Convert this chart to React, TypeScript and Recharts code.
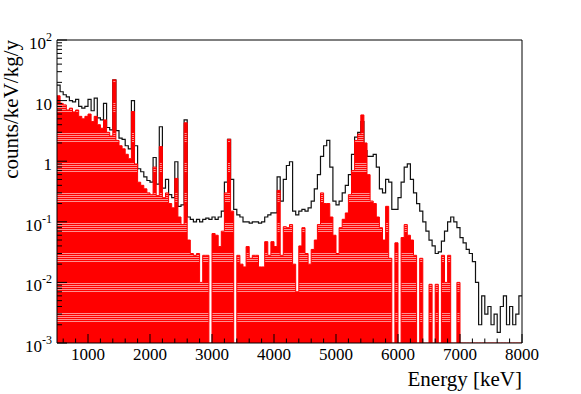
import React from 'react';
import { ComposedChart, Area, XAxis, YAxis, ReferenceArea } from 'recharts';

// ---- data ----
const X_MIN = 500;
const X_MAX = 8000;
const BIN_WIDTH = 50;
const Y_MIN = 0.001;
const Y_MAX = 100;

// bin start energies [keV]
const binStarts: number[] = Array.from({ length: 150 }, (_, i) => X_MIN + BIN_WIDTH * i);

// total spectrum (black), counts/keV/kg/y
const totalRate: number[] = [
  18, 14, 12.5, 11.5, 10, 9.5, 10.5, 8, 7.5, 8,
  10.5, 6.8, 11, 5.2, 4.8, 9, 3.6, 3.3, 22, 3.2,
  2.4, 2.3, 1.8, 1.6, 10, 1.8, 0.75, 0.67, 0.55, 0.48,
  0.45, 1.15, 0.42, 3.7, 0.36, 0.5, 0.28, 0.25, 0.98, 0.18,
  0.19, 4.8, 0.12, 0.11, 0.1, 0.11, 0.1, 0.11, 0.115, 0.11,
  0.12, 0.11, 0.12, 0.15, 0.45, 2.3, 0.5, 0.16, 0.13, 0.12,
  0.1, 0.1, 0.095, 0.1, 0.1, 0.095, 0.1, 0.12, 0.13, 0.14,
  0.14, 0.55, 0.22, 0.5, 0.85, 0.98, 0.15, 0.13, 0.15, 0.16,
  0.15, 0.17, 0.22, 0.35, 0.6, 1.2, 1.8, 2.2, 0.8, 0.22,
  0.19, 0.22, 0.3, 0.4, 0.6, 1.3, 2.5, 3.0, 4.5, 1.5,
  1.2, 1.2, 1.3, 0.8, 0.35, 0.3, 0.5, 0.45, 0.16, 0.16,
  0.25, 0.45, 0.8, 0.9, 0.5, 0.3, 0.2, 0.15, 0.1, 0.07,
  0.05, 0.04, 0.03, 0.032, 0.048, 0.07, 0.1, 0.12, 0.1, 0.08,
  0.055, 0.045, 0.035, 0.03, 0.022, 0.01, 0.002, 0.006, 0.003, 0.004,
  0.002, 0.003, 0.0015, 0.004, 0.006, 0.002, 0.004, 0.002, 0.003, 0.006,
];

// selected spectrum (red), counts/keV/kg/y (0 = empty bin)
const selectedRate: number[] = [
  12, 9, 8.5, 7, 7.5, 6.5, 7, 5.5, 5, 5.5,
  6, 4.5, 5.5, 4, 3.5, 4.8, 3, 2.6, 22, 2.2,
  1.8, 1.6, 1.3, 1.1, 6.6, 0.9, 0.45, 0.4, 0.35, 0.3,
  0.28, 0.8, 0.27, 1.74, 0.25, 0.3, 0.2, 0.17, 0.52, 0.12,
  0.09, 4.3, 0.05, 0.03, 0.028, 0.03, 0.01, 0.028, 0.028, 0,
  0.064, 0.06, 0.039, 0.07, 0.3, 2.3, 0.15, 0, 0.028, 0.02,
  0.018, 0.039, 0.025, 0.028, 0.028, 0.018, 0.018, 0.047, 0.028, 0.047,
  0.039, 0.33, 0.028, 0.083, 0.08, 0.09, 0.02, 0.007, 0.04, 0.08,
  0.03, 0.02, 0.035, 0.05, 0.09, 0.3, 0.2, 0.2, 0.12, 0.06,
  0.03, 0.08, 0.11, 0.14, 0.28, 0.7, 2.2, 2.8, 5.8, 2.0,
  0.6, 0.22, 0.2, 0.12, 0.08, 0.05, 0.18, 0.025, 0, 0.045,
  0, 0.055, 0.09, 0.06, 0.05, 0.028, 0, 0.025, 0, 0,
  0.0093, 0, 0.0093, 0, 0.028, 0.01, 0.028, 0, 0, 0.01,
  0, 0, 0, 0, 0, 0, 0, 0, 0, 0,
  0, 0, 0, 0, 0, 0, 0, 0, 0, 0,
];

// axis ticks
const xTicks: number[] = Array.from({ length: 38 }, (_, i) => 600 + 200 * i);
const yTicks: number[] = (() => {
  const out: number[] = [];
  for (let d = -3; d <= 1; d++) {
    for (let m = 1; m <= 9; m++) out.push(Number((m * Math.pow(10, d)).toPrecision(3)));
  }
  out.push(100);
  return out;
})();
const yTickLabels: Record<string, [string, string]> = {
  '100': ['10', '2'],
  '10': ['10', ''],
  '1': ['1', ''],
  '0.1': ['10', '-1'],
  '0.01': ['10', '-2'],
  '0.001': ['10', '-3'],
};

const clampLow = (v: number) => (v > Y_MIN ? v : Y_MIN);

const rows = [
  ...binStarts.map((e, i) => ({ e, total: clampLow(totalRate[i]), sel: clampLow(selectedRate[i]) })),
  { e: X_MAX, total: clampLow(totalRate[totalRate.length - 1]), sel: clampLow(selectedRate[selectedRate.length - 1]) },
];

// ---- layout ----
const W = 581;
const H = 394;
const PLOT_LEFT = 57;
const PLOT_RIGHT = 522;
const PLOT_TOP = 40;
const PLOT_BOTTOM = 343;
const FONT = '"Liberation Serif", "DejaVu Serif", "Times New Roman", serif';

const XTick = (props: any) => {
  const { x, payload } = props;
  const v = payload.value as number;
  const major = v % 1000 === 0;
  return (
    <g>
      <line x1={x} x2={x} y1={PLOT_BOTTOM} y2={PLOT_BOTTOM - (major ? 9 : 4.5)} stroke="#000" strokeWidth={1} />
      {major && (
        <text x={x} y={360} textAnchor="middle" fontSize={17} fontFamily={FONT} fill="#000">
          {v}
        </text>
      )}
    </g>
  );
};

const YTick = (props: any) => {
  const { y, payload } = props;
  const v = payload.value as number;
  const lg = Math.log10(v);
  const major = Math.abs(lg - Math.round(lg)) < 1e-6;
  const lab = major ? yTickLabels[String(Number(v.toPrecision(3)))] : undefined;
  return (
    <g>
      <line x1={PLOT_LEFT} x2={PLOT_LEFT + (major ? 10 : 5)} y1={y} y2={y} stroke="#000" strokeWidth={1} />
      {lab && (
        <text x={52} y={y + 9} textAnchor="end" fontSize={17} fontFamily={FONT} fill="#000">
          <tspan>{lab[0]}</tspan>
          {lab[1] && (
            <tspan fontSize={12} dy={-8}>
              {lab[1]}
            </tspan>
          )}
        </text>
      )}
    </g>
  );
};

const XTitle = () => (
  <text x={PLOT_RIGHT} y={386} textAnchor="end" fontSize={21} fontFamily={FONT} fill="#000">
    Energy [keV]
  </text>
);

const YTitle = () => (
  <text
    x={18}
    y={PLOT_TOP}
    transform={`rotate(-90 18 ${PLOT_TOP})`}
    textAnchor="end"
    fontSize={21}
    fontFamily={FONT}
    fill="#000"
  >
    counts/keV/kg/y
  </text>
);

export default function App() {
  return (
    <div style={{ position: 'absolute', left: 0, top: 0, width: W, height: H, background: '#fff' }}>
      <ComposedChart
        width={W}
        height={H}
        data={rows}
        margin={{ top: PLOT_TOP, right: W - PLOT_RIGHT, bottom: 0, left: 0 }}
      >
        <defs>
          <pattern id="redStripes" patternUnits="userSpaceOnUse" width="8" height="30">
            <rect x="0" y="0" width="8" height="30" fill="#ff0000" />
            <rect x="0" y="13" width="8" height="1" fill="#ff8f8f" />
            <rect x="0" y="15" width="8" height="1" fill="#ff8f8f" />
            <rect x="0" y="17" width="8" height="1" fill="#ff8f8f" />
            <rect x="0" y="19" width="8" height="1" fill="#ff8f8f" />
            <rect x="0" y="21" width="8" height="1" fill="#ff8f8f" />
          </pattern>
        </defs>
        <XAxis
          dataKey="e"
          type="number"
          domain={[X_MIN, X_MAX]}
          ticks={xTicks}
          interval={0}
          tick={<XTick />}
          tickLine={false}
          axisLine={false}
          height={H - PLOT_BOTTOM}
          allowDataOverflow
          label={{ content: XTitle }}
        />
        <YAxis
          scale="log"
          type="number"
          domain={[Y_MIN, Y_MAX]}
          ticks={yTicks}
          interval={0}
          tick={<YTick />}
          tickLine={false}
          axisLine={false}
          width={PLOT_LEFT}
          allowDataOverflow
          label={{ content: YTitle }}
        />
        <Area
          dataKey="total"
          type="stepAfter"
          stroke="#111111"
          strokeWidth={1.2}
          fill="none"
          baseValue={Y_MIN}
          dot={false}
          activeDot={false}
          isAnimationActive={false}
        />
        <Area
          dataKey="sel"
          type="stepAfter"
          stroke="#ff0000"
          strokeWidth={1}
          fill="url(#redStripes)"
          fillOpacity={1}
          baseValue={Y_MIN}
          dot={false}
          activeDot={false}
          isAnimationActive={false}
        />
        <ReferenceArea
          x1={X_MIN}
          x2={X_MAX}
          y1={Y_MIN}
          y2={Y_MAX}
          fill="none"
          stroke="#000"
          strokeWidth={1}
          ifOverflow="visible"
        />
      </ComposedChart>
    </div>
  );
}
